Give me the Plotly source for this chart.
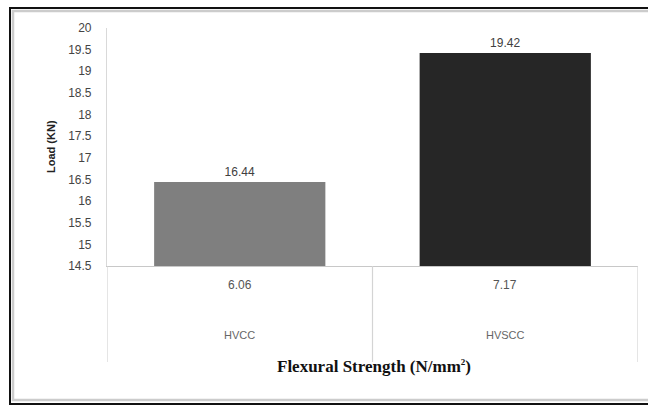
import plotly.graph_objects as go

# Data
categories = ["HVCC", "HVSCC"]
load_kn = [16.44, 19.42]
flexural_strength = ["6.06", "7.17"]
bar_colors = ["#7f7f7f", "#262626"]
y_ticks = [14.5, 15, 15.5, 16, 16.5, 17, 17.5, 18, 18.5, 19, 19.5, 20]

W, H = 648, 407
L, R, T, B = 107, 638, 28, 266  # plot area in pixels


def px_x(p):
    return (p - L) / (R - L)


def px_y(p):
    return (B - p) / (B - T)


fig = go.Figure()
fig.add_trace(go.Bar(
    x=categories,
    y=load_kn,
    marker=dict(color=bar_colors, line=dict(width=0)),
    width=0.645,
    text=[f"{v:.2f}" for v in load_kn],
    textposition="outside",
    textfont=dict(family="Liberation Sans, Arial", size=12, color="#404040"),
    cliponaxis=False,
))

shapes = []
# category separators below the axis
for xb in [-0.5, 0.5, 1.5]:
    shapes.append(dict(type="line", xref="x", yref="paper",
                       x0=xb, x1=xb, y0=0, y1=px_y(362),
                       line=dict(color="#d4d4d4", width=1.2)))
# outer frame
shapes.append(dict(type="rect", xref="paper", yref="paper",
                   x0=px_x(13), x1=px_x(652), y0=px_y(11), y1=px_y(400),
                   line=dict(color="#cccccc", width=2.5)))
shapes.append(dict(type="rect", xref="paper", yref="paper",
                   x0=px_x(10), x1=px_x(652), y0=px_y(8), y1=px_y(404),
                   line=dict(color="#111111", width=2)))

annotations = []
for cat, fs in zip(categories, flexural_strength):
    annotations.append(dict(x=cat, xref="x", y=px_y(294), yref="paper",
                            text=fs, showarrow=False,
                            font=dict(family="Liberation Sans, Arial", size=12, color="#555555")))
    annotations.append(dict(x=cat, xref="x", y=px_y(343), yref="paper",
                            text=cat, showarrow=False,
                            font=dict(family="Liberation Sans, Arial", size=11, color="#666666")))
annotations.append(dict(x=px_x(374), xref="paper", y=px_y(378), yref="paper",
                        text="<b>Flexural Strength (N/mm<sup><span style='font-size:9px'>2</span></sup>)</b>",
                        showarrow=False,
                        font=dict(family="Liberation Serif, Times New Roman", size=17, color="#111111")))
annotations.append(dict(x=px_x(43), xref="paper", y=px_y(147), yref="paper",
                        text="<b>Load (KN)</b>", showarrow=False, textangle=-90,
                        font=dict(family="Liberation Sans, Arial", size=11, color="#222222")))

fig.update_layout(
    width=W, height=H,
    margin=dict(l=L, r=W - R, t=T, b=H - B),
    paper_bgcolor="white", plot_bgcolor="white",
    showlegend=False,
    shapes=shapes,
    annotations=annotations,
    xaxis=dict(range=[-0.5, 1.5], showticklabels=False, ticks="",
               showline=True, linecolor="#c8c8c8", linewidth=1.2,
               showgrid=False, zeroline=False, fixedrange=True),
    yaxis=dict(range=[14.5, 20], tickvals=y_ticks,
               ticktext=[f"{v:g}" for v in y_ticks],
               tickfont=dict(family="Liberation Sans, Arial", size=12, color="#444444"),
               ticks="", ticklabelstandoff=12,
               showline=True, linecolor="#d9d9d9", linewidth=1.2,
               showgrid=False, zeroline=False, fixedrange=True),
)

fig.write_html("out.html")
